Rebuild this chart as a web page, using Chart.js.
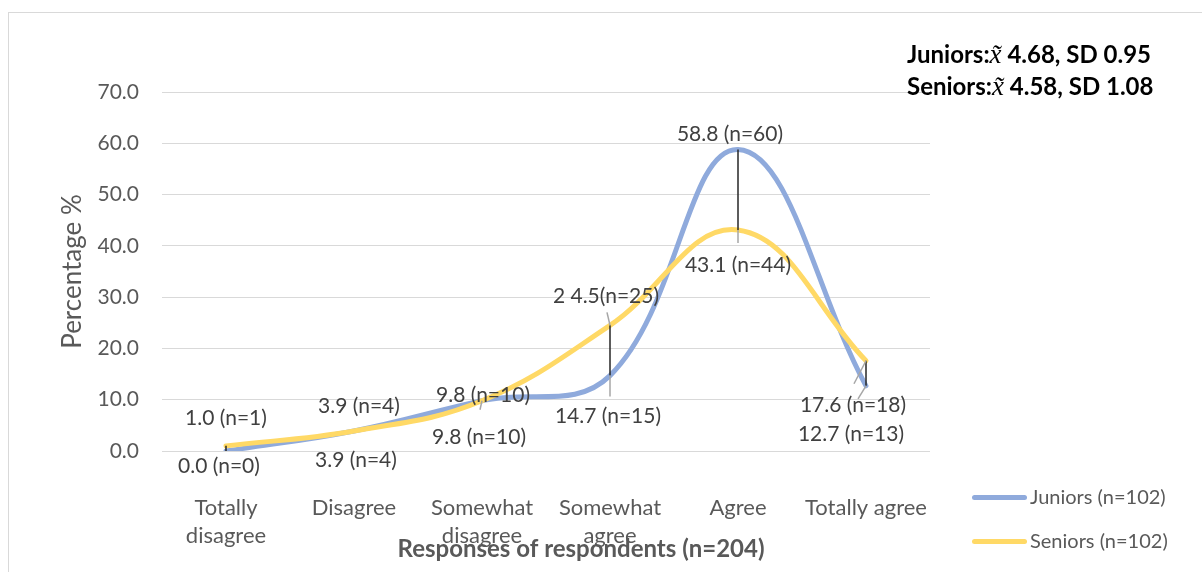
<!DOCTYPE html>
<html>
<head>
<meta charset="utf-8">
<script src="https://cdn.jsdelivr.net/npm/chart.js@4"></script>
<style>
  html, body { margin: 0; padding: 0; background: #fff; }
  #wrap { position: relative; width: 1202px; height: 572px; overflow: hidden; }
  #frame { position: absolute; left: 8px; top: 12px; width: 1200px; height: 580px; border: 1px solid #d9d9d9; box-sizing: border-box; }
  #note { position: absolute; left: 907px; top: 38px; font: bold 24px Lato; line-height: 31px; color: #000; white-space: nowrap; }
  #note i { font-family: "Liberation Serif", serif; font-weight: normal; font-size: 27px; }
  .leg { position: absolute; left: 972px; font: 20px Lato; color: #595959; white-space: nowrap; }
  .leg span { display: inline-block; width: 55px; height: 5px; border-radius: 3px; vertical-align: middle; margin-right: 3px; position: relative; top: -1px; }
</style>
</head>
<body>
<div id="wrap">
  <div id="frame"></div>
  <canvas id="chart" width="1202" height="572"></canvas>
  <div id="note">Juniors:<i>x&#771;</i> 4.68, SD 0.95<br>Seniors:<i>x&#771;</i> 4.58, SD 1.08</div>
  <div class="leg" style="top:484px"><span style="background:#8faadc"></span>Juniors (n=102)</div>
  <div class="leg" style="top:528px"><span style="background:#ffd966"></span>Seniors (n=102)</div>
</div>
<script>
// ---- data ----
const categories = [["Totally", "disagree"], "Disagree", ["Somewhat", "disagree"], ["Somewhat", "agree"], "Agree", "Totally agree"];
const juniors = [0.0, 3.9, 9.8, 14.7, 58.8, 12.7];
const seniors = [1.0, 3.9, 9.8, 24.5, 43.1, 17.6];
const juniorsLabels = ["0.0 (n=0)", "3.9 (n=4)", "9.8 (n=10)", "14.7 (n=15)", "58.8 (n=60)", "12.7 (n=13)"];
const seniorsLabels = ["1.0 (n=1)", "3.9 (n=4)", "9.8 (n=10)", "2 4.5(n=25)", "43.1 (n=44)", "17.6 (n=18)"];
const yMax = 70;
const yStep = 10;

// label placement (offset from the point, px) and leader line ends
const juniorsLabelPos = [[-7, 15], [2, 29], [-3, 36], [-2, 41], [-8, -15], [-15, 48]];
const seniorsLabelPos = [[0, -28], [5, -25], [1, -6], [-4, -29], [0, 35], [-13, 44]];
const juniorsLeaders = [null, null, [-2, 9], [0, 21], null, [-8, 13]];
const seniorsLeaders = [null, null, null, [-3, -13], [0, 13], [-12, 23]];

const textColor = "#404040";
const axisColor = "#595959";

const extras = {
  id: "extras",
  afterDatasetsDraw(chart) {
    const ctx = chart.ctx;
    const jm = chart.getDatasetMeta(0).data;
    const sm = chart.getDatasetMeta(1).data;
    ctx.save();

    // high-low lines
    ctx.strokeStyle = "#262626";
    ctx.lineWidth = 1.5;
    jm.forEach((p, i) => {
      ctx.beginPath();
      ctx.moveTo(p.x, p.y);
      ctx.lineTo(sm[i].x, sm[i].y);
      ctx.stroke();
    });

    // leader lines
    ctx.strokeStyle = "#a6a6a6";
    ctx.lineWidth = 1.5;
    const leaders = (meta, list) => {
      meta.forEach((p, i) => {
        if (!list[i]) return;
        ctx.beginPath();
        ctx.moveTo(p.x, p.y);
        ctx.lineTo(p.x + list[i][0], p.y + list[i][1]);
        ctx.stroke();
      });
    };
    leaders(jm, juniorsLeaders);
    leaders(sm, seniorsLeaders);

    // data labels
    ctx.font = "21px Lato";
    ctx.fillStyle = textColor;
    ctx.textAlign = "center";
    ctx.textBaseline = "middle";
    jm.forEach((p, i) => ctx.fillText(juniorsLabels[i], p.x + juniorsLabelPos[i][0], p.y + juniorsLabelPos[i][1]));
    sm.forEach((p, i) => ctx.fillText(seniorsLabels[i], p.x + seniorsLabelPos[i][0], p.y + seniorsLabelPos[i][1]));

    // x axis title
    ctx.font = "bold 24px Lato";
    ctx.fillStyle = axisColor;
    ctx.fillText("Responses of respondents (n=204)", 581, 549);
    ctx.restore();
  }
};

new Chart(document.getElementById("chart"), {
  type: "line",
  data: {
    labels: categories,
    datasets: [
      {
        label: "Juniors (n=102)",
        data: juniors,
        borderColor: "#8faadc",
        borderWidth: 5,
        tension: 0.4,
        pointRadius: 0,
        borderCapStyle: "round",
        order: 1,
      },
      {
        label: "Seniors (n=102)",
        data: seniors,
        borderColor: "#ffd966",
        borderWidth: 5,
        tension: 0.4,
        pointRadius: 0,
        borderCapStyle: "round",
        order: 0,
      },
    ],
  },
  options: {
    responsive: false,
    animation: false,
    layout: { padding: { top: 92, right: 272, left: 0, bottom: 0 } },
    plugins: { legend: { display: false }, tooltip: { enabled: false } },
    scales: {
      x: {
        offset: true,
        grid: { display: false },
        border: { display: false },
        ticks: { color: axisColor, font: { family: "Lato", size: 22, lineHeight: 1.27 }, padding: 35, maxRotation: 0, autoSkip: false },
        afterFit(scale) { scale.height = 121; },
      },
      y: {
        min: 0,
        max: yMax,
        grid: { color: "#d9d9d9", lineWidth: 1, drawTicks: false },
        border: { display: false },
        ticks: {
          stepSize: yStep,
          color: axisColor,
          font: { family: "Lato", size: 21 },
          padding: 23,
          callback: (v) => v.toFixed(1),
        },
        title: {
          display: true,
          text: "Percentage %",
          color: axisColor,
          font: { family: "Lato", size: 26 },
          padding: { top: 57, bottom: 0 },
        },
        afterFit(scale) { scale.width = 162; },
      },
    },
  },
  plugins: [extras],
});
</script>
</body>
</html>
